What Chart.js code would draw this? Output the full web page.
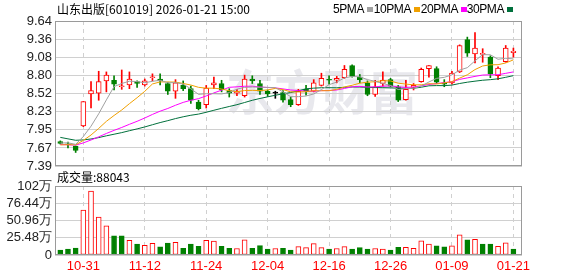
<!DOCTYPE html>
<html>
<head>
<meta charset="utf-8">
<script src="https://cdn.jsdelivr.net/npm/chart.js@4.4.1/dist/chart.umd.min.js"></script>
<style>
  body { margin: 0; background: #fff; }
  #wrap { position: relative; width: 578px; height: 276px; overflow: hidden; background: #fff; }
  canvas { position: absolute; left: 0; }
  .txt { position: absolute; font: 12px 'Noto Sans CJK SC', sans-serif; line-height: 12px; color: #000; white-space: nowrap; }
  .lg { position: absolute; top: 3px; font: 12px 'Liberation Sans', Arial, sans-serif; letter-spacing: -0.4px; line-height: 12px; color: #000; white-space: nowrap; text-align: right; }
  .sw { position: absolute; top: 7px; width: 6px; height: 5px; }
</style>
</head>
<body>
<div id="wrap">
  <canvas id="kline" width="578" height="178" style="top:0"></canvas>
  <canvas id="vol" width="578" height="106" style="top:170px"></canvas>
  <div class="txt" style="left:57px;top:3px">山东出版[601019] 2026-01-21 15:00</div>
  <div class="lg" style="right:214px">5PMA</div><div class="sw" style="left:367px;background:#a0a0a0"></div>
  <div class="lg" style="right:167px">10PMA</div><div class="sw" style="left:414px;background:#f0a000"></div>
  <div class="lg" style="right:120px">20PMA</div><div class="sw" style="left:461px;background:#ff00ff"></div>
  <div class="lg" style="right:74px">30PMA</div><div class="sw" style="left:507px;background:#00703c"></div>
  <div class="txt" id="volTitle" style="left:57px;top:171px"></div>
</div>
<script>
const days = ['10-28','10-29','10-30','10-31','11-03','11-04','11-05','11-06','11-07','11-10',
  '11-11','11-12','11-13','11-14','11-17','11-18','11-19','11-20','11-21','11-24',
  '11-25','11-26','11-27','11-28','12-01','12-02','12-03','12-04','12-05','12-08',
  '12-09','12-10','12-11','12-12','12-15','12-16','12-17','12-18','12-19','12-22',
  '12-23','12-24','12-25','12-26','12-29','12-30','12-31','01-05','01-06','01-07',
  '01-08','01-09','01-12','01-13','01-14','01-15','01-16','01-19','01-20','01-21'];

const opens = [7.77,7.73,7.70,8.01,8.51,8.52,8.71,8.72,8.62,8.65, 8.70,8.65,8.76,8.74,8.67,8.55,8.64,8.59,8.38,8.34,
  8.65,8.67,8.56,8.52,8.48,8.74,8.67,8.55,8.52,8.53, 8.42,8.34,8.58,8.55,8.64,8.73,8.72,8.76,8.95,8.77,
  8.68,8.50,8.67,8.73,8.62,8.42,8.61,8.70,8.90,8.90, 8.67,8.68,8.85,9.35,9.13,9.12,9.08,8.79,9.01,9.15];
const highs = [7.78,7.76,7.70,8.39,8.70,8.86,8.85,8.79,8.88,8.85, 8.71,8.74,8.82,8.82,8.69,8.73,8.71,8.63,8.41,8.64,
  8.77,8.72,8.59,8.58,8.80,8.79,8.72,8.57,8.55,8.56, 8.46,8.58,8.64,8.73,8.83,8.79,8.78,8.95,8.96,8.81,
  8.71,8.72,8.85,8.75,8.64,8.72,8.67,8.91,8.95,8.93, 8.73,8.86,9.27,9.39,9.46,9.21,9.10,8.93,9.26,9.22];
const lows = [7.73,7.67,7.60,8.00,8.29,8.41,8.54,8.57,8.58,8.59, 8.61,8.63,8.71,8.65,8.50,8.44,8.56,8.36,8.26,8.29,
  8.59,8.54,8.46,8.48,8.46,8.67,8.50,8.47,8.44,8.38, 8.31,8.33,8.49,8.54,8.63,8.66,8.68,8.75,8.77,8.68,
  8.48,8.47,8.63,8.62,8.39,8.41,8.57,8.69,8.77,8.67, 8.62,8.66,8.84,9.09,8.99,9.00,8.76,8.73,9.00,9.08];
const closes = [7.74,7.72,7.63,8.39,8.56,8.70,8.80,8.66,8.63,8.74, 8.67,8.71,8.77,8.71,8.55,8.68,8.59,8.41,8.28,8.60,
  8.68,8.57,8.52,8.54,8.74,8.71,8.55,8.51,8.52,8.41, 8.34,8.55,8.56,8.68,8.75,8.72,8.75,8.89,8.78,8.73,
  8.50,8.62,8.72,8.63,8.41,8.58,8.64,8.89,8.95,8.69, 8.66,8.83,9.26,9.14,9.22,9.14,8.82,8.91,9.22,9.17];
// closes before 10-28, only needed to start the moving averages
const priorCloses = [8.40,8.30,8.22,8.12,8.05,7.98,7.92,7.88,7.85,7.83,
  7.80,7.74,7.70,7.66,7.72,7.75,7.70,7.73,7.76,7.74,
  7.68,7.66,7.70,7.72,7.68,7.70,7.75,7.78,7.76];
const volumes = [74000,89000,104000,663000,945000,559000,430000,282000,282000,218000,
  163000,144000,173000,120000,177000,187000,100000,163000,129000,215000,
  206000,129000,100000,96000,225000,100000,139000,86000,96000,100000,
  72000,124000,110000,167000,110000,86000,96000,124000,86000,110000,
  86000,96000,86000,72000,114000,114000,99000,208000,163000,134000,
  119000,134000,297000,223000,233000,163000,163000,129000,178000,88043];

const priceTicks = [7.39,7.67,7.95,8.23,8.52,8.80,9.08,9.36,9.64];
const volTicks = [0,254800,509600,764400,1019200];
const volTickLabels = ['0','25.48万','50.96万','76.44万','102万'];

const RED = '#ff0000', GREEN = '#008000';
const tickFont = { family: "'Liberation Sans', Arial, sans-serif", size: 13 };

document.getElementById('volTitle').textContent = '成交量:' + volumes[volumes.length - 1];

const allCloses = priorCloses.concat(closes);
function movingAvg(n) {
  return closes.map((c, i) => {
    const end = i + priorCloses.length;
    let s = 0;
    for (let k = end - n + 1; k <= end; k++) s += allCloses[k];
    return { x: i, y: s / n };
  });
}

const candleColor = i => closes[i] > opens[i] ? RED : (closes[i] < opens[i] ? GREEN : '#000');
const volUp = closes.map((c, i) => c >= (i ? closes[i - 1] : priorCloses[priorCloses.length - 1]));

const xMin = -0.69, xMax = 60.12;
const dateTicks = s => { s.ticks = days.map((d, i) => ({ value: i })).filter(t => t.value % 8 === 3); };

const boxPlugin = {
  id: 'box',
  beforeDraw(chart, args, opts) {
    const ctx = chart.ctx;
    if (opts.mark) {
      ctx.save();
      ctx.fillStyle = '#e8e8ed';
      ctx.font = "bold 48px 'Noto Sans CJK SC', sans-serif";
      ctx.textBaseline = 'middle';
      ctx.fillText(opts.mark, 226, 92);
      ctx.restore();
    }
  },
  afterDraw(chart) {
    const a = chart.chartArea, ctx = chart.ctx;
    ctx.save();
    ctx.strokeStyle = '#9a9a9a';
    ctx.lineWidth = 1;
    ctx.strokeRect(Math.round(a.left) + 0.5, Math.round(a.top) + 0.5,
      Math.round(a.right - a.left) - 1, Math.round(a.bottom - a.top) - 1);
    ctx.restore();
  }
};

const maLine = (n, color) => ({
  type: 'line', label: n + 'PMA', data: movingAvg(n), borderColor: color,
  borderWidth: 1, pointRadius: 0, tension: 0, order: 0
});

new Chart(document.getElementById('kline'), {
  type: 'bar',
  data: {
    datasets: [
      maLine(5, '#a0a0a0'),
      maLine(10, '#f0a000'),
      maLine(20, '#ff00ff'),
      maLine(30, '#00703c'),
      {
        label: 'body', data: days.map((d, i) => ({ x: i, y: [opens[i], closes[i]] })),
        backgroundColor: days.map((d, i) => closes[i] > opens[i] ? '#fff' : candleColor(i)),
        borderColor: days.map((d, i) => candleColor(i)),
        borderWidth: 1, borderSkipped: false, barThickness: 5, minBarLength: 1,
        grouped: false, order: 1
      },
      {
        label: 'wick', data: days.map((d, i) => ({ x: i, y: [lows[i], highs[i]] })),
        backgroundColor: days.map((d, i) => candleColor(i)),
        barThickness: 1, grouped: false, order: 2
      }
    ]
  },
  options: {
    responsive: false, animation: false, devicePixelRatio: 1,
    layout: { padding: { left: 0, top: 21, right: 56, bottom: 12 } },
    plugins: { legend: { display: false }, tooltip: { enabled: false }, box: { mark: '东方财富' } },
    scales: {
      x: {
        type: 'linear', min: xMin, max: xMax, offset: false,
        afterBuildTicks: dateTicks,
        afterFit: s => { s.height = 0; },
        ticks: { display: false },
        grid: { color: '#d0d0d0', drawTicks: false, offset: false },
        border: { display: false, dash: [4, 4] }
      },
      y: {
        min: 7.39, max: 9.64,
        afterBuildTicks: s => { s.ticks = priceTicks.map(v => ({ value: v })); },
        afterFit: s => { s.width = 55; },
        ticks: { callback: v => v.toFixed(2), color: '#222', font: tickFont, padding: 3, autoSkip: false },
        grid: { color: '#d0d0d0', drawTicks: false },
        border: { display: false }
      }
    }
  },
  plugins: [boxPlugin]
});

new Chart(document.getElementById('vol'), {
  type: 'bar',
  data: {
    datasets: [{
      label: 'volume', data: volumes.map((v, i) => ({ x: i, y: v })),
      backgroundColor: volUp.map(u => u ? '#fff' : GREEN),
      borderColor: volUp.map(u => u ? RED : GREEN),
      borderWidth: 1, borderSkipped: false, barThickness: 5
    }]
  },
  options: {
    responsive: false, animation: false, devicePixelRatio: 1,
    layout: { padding: { left: 0, top: 16, right: 56, bottom: 0 } },
    plugins: { legend: { display: false }, tooltip: { enabled: false }, box: {} },
    scales: {
      x: {
        type: 'linear', min: xMin, max: xMax, offset: false,
        afterBuildTicks: dateTicks,
        afterFit: s => { s.height = 21; },
        ticks: { callback: v => days[v], color: RED, font: tickFont, padding: 4, autoSkip: false, maxRotation: 0 },
        grid: { color: '#d0d0d0', drawTicks: false, offset: false },
        border: { display: false, dash: [4, 4] }
      },
      y: {
        min: 0, max: 1019200,
        afterBuildTicks: s => { s.ticks = volTicks.map(v => ({ value: v })); },
        afterFit: s => { s.width = 55; },
        ticks: { callback: (v, i) => volTickLabels[i], color: '#222', font: tickFont, padding: 3, autoSkip: false },
        grid: { color: '#d0d0d0', drawTicks: false },
        border: { display: false }
      }
    }
  },
  plugins: [boxPlugin]
});
</script>
</body>
</html>
